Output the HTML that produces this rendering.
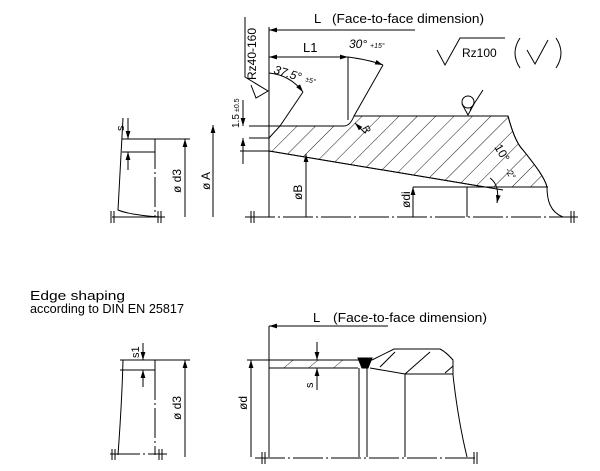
<!DOCTYPE html>
<html><head><meta charset="utf-8"><style>
html,body{margin:0;padding:0;background:#fff;width:600px;height:471px;overflow:hidden}
svg{display:block}
text{font-family:"Liberation Sans",sans-serif;fill:#000}
</style></head><body>
<svg width="600" height="471" viewBox="0 0 600 471" xmlns="http://www.w3.org/2000/svg">
<defs>
<pattern id="h" patternUnits="userSpaceOnUse" width="13" height="13" patternTransform="rotate(45)">
<line x1="0" y1="0" x2="0" y2="13" stroke="#000" stroke-width="0.9"/>
</pattern>
<pattern id="h2" patternUnits="userSpaceOnUse" width="16" height="16" patternTransform="rotate(50)">
<line x1="0" y1="0" x2="0" y2="16" stroke="#000" stroke-width="0.8"/>
</pattern>
<marker id="a" viewBox="0 0 10 6" refX="10" refY="3" markerWidth="8" markerHeight="5" orient="auto-start-reverse"><path d="M0,0L10,3L0,6z" fill="#000"/></marker>
</defs>
<g stroke="#000" fill="none" stroke-width="1">
<!-- TOP MAIN -->
<path d="M269,151 L269,138 L280,126 L344,126 Q350,126 354,116 L508,116 C513,135 518,145 523,150 C535,165 545,178 547,187 L485,187 Z" fill="url(#h)"/>
<path d="M269,151 L503,190"/>
<path d="M508,116 C513,135 518,145 523,150 C535,165 545,178 547,187 C547,200 550,212 563,217"/>
<line x1="269" y1="27" x2="269" y2="217"/>
<line x1="269" y1="30" x2="415" y2="30" marker-start="url(#a)"/>
<line x1="269" y1="57" x2="348" y2="57" marker-start="url(#a)" marker-end="url(#a)"/>
<line x1="348" y1="57" x2="348" y2="120"/>
<line x1="249" y1="126" x2="283" y2="126"/>
<line x1="249" y1="138" x2="269" y2="138"/>
<line x1="240" y1="151" x2="269" y2="151"/>
<line x1="280" y1="126" x2="303" y2="92"/>
<line x1="354" y1="116" x2="383" y2="65"/>
<path d="M348,57 Q370,60 383,65" marker-end="url(#a)"/>
<path d="M269,73 Q290,75 303,92" marker-end="url(#a)"/>
<line x1="355" y1="123" x2="365" y2="133" marker-start="url(#a)"/>
<line x1="243" y1="100" x2="243" y2="126" marker-end="url(#a)"/>
<line x1="243" y1="164" x2="243" y2="138" marker-end="url(#a)"/>
<line x1="213" y1="125" x2="213" y2="217" marker-start="url(#a)"/>
<line x1="306" y1="154" x2="306" y2="217" marker-start="url(#a)"/>
<line x1="467" y1="187" x2="467" y2="217"/>
<line x1="413" y1="187" x2="413" y2="217" marker-start="url(#a)"/>
<line x1="413" y1="187" x2="548" y2="187"/>
<path d="M490,178 Q500,185 497,203" marker-end="url(#a)"/>
<line x1="245" y1="217" x2="578" y2="217" stroke-dasharray="30,3,2,3"/>
<path d="M251,211v12M254,211v12M571,211v12M574,211v12"/>
<!-- Rz40 symbol -->
<path d="M245,17 L245,77 L268,91 L256,98 L251,85"/>
<!-- Rz100 -->
<path d="M437,50 L445,65 L460,38 L505,38"/>
<path d="M520,38 Q510,53 520,68"/>
<path d="M556,38 Q566,53 556,68"/>
<path d="M527,50 L535,64 L548,40"/>
<!-- weld -->
<circle cx="468" cy="102" r="6"/>
<path d="M462,104 L468,115 L474,104"/>
<line x1="470" y1="110" x2="483" y2="90"/>
<!-- left small view top -->
<path d="M123,118 Q120,170 118,210 Q130,215 160,217"/>
<line x1="122" y1="139" x2="162" y2="139"/>
<line x1="122" y1="152" x2="155" y2="152"/>
<line x1="155" y1="139" x2="155" y2="217" stroke-dasharray="30,3,2,3"/>
<line x1="155" y1="139" x2="190" y2="139"/>
<line x1="128" y1="118" x2="128" y2="139" marker-end="url(#a)"/>
<line x1="128" y1="170" x2="128" y2="152" marker-end="url(#a)"/>
<line x1="185" y1="217" x2="185" y2="139" marker-end="url(#a)"/>
<line x1="112" y1="217" x2="165" y2="217"/>
<path d="M111,211v12M114,211v12M158,211v12M161,211v12"/>
<!-- BOTTOM left view -->
<path d="M123,360 Q122,400 118,455"/>
<line x1="120" y1="360" x2="190" y2="360"/>
<line x1="120" y1="370" x2="155" y2="370"/>
<line x1="155" y1="360" x2="155" y2="370"/>
<line x1="155" y1="370" x2="155" y2="455" stroke-dasharray="30,3,2,3"/>
<line x1="143" y1="343" x2="143" y2="360" marker-end="url(#a)"/>
<line x1="143" y1="387" x2="143" y2="370" marker-end="url(#a)"/>
<line x1="185" y1="457" x2="185" y2="360" marker-end="url(#a)"/>
<line x1="110" y1="454" x2="167" y2="454" stroke-dasharray="30,3,2,3"/>
<path d="M112,449v11M115,449v11M159,449v11M162,449v11"/>
<!-- BOTTOM right -->
<rect x="269" y="360" width="89" height="8" fill="url(#h2)" stroke="none"/>
<line x1="247" y1="360" x2="372" y2="360"/>
<line x1="269" y1="368" x2="358" y2="368"/>
<line x1="269" y1="326" x2="388" y2="326" marker-start="url(#a)"/>
<line x1="269" y1="326" x2="269" y2="457"/>
<path d="M358,358 L372,358 L368,368 L362,368 Z" fill="#000"/>
<line x1="359" y1="368" x2="359" y2="457"/>
<line x1="367" y1="368" x2="367" y2="457"/>
<path d="M372,360 L394,349 L440,349 Q446,352 453,360 L453,375"/>
<path d="M370,368 L405,374 L453,374"/>
<path d="M380,367 L395,352M405,374 L430,352M445,373 L453,366"/>
<line x1="405" y1="374" x2="405" y2="457"/>
<path d="M453,375 Q458,420 467,457"/>
<line x1="251" y1="457" x2="251" y2="360" marker-end="url(#a)"/>
<line x1="317" y1="342" x2="317" y2="360" marker-end="url(#a)"/>
<line x1="317" y1="390" x2="317" y2="368" marker-end="url(#a)"/>
<line x1="255" y1="458" x2="478" y2="458" stroke-dasharray="30,3,2,3"/>
<path d="M262,452v12M265,452v12M474,452v12M477,452v12"/>
</g>
<!-- TEXT -->
<text x="314" y="23" font-size="13">L</text>
<text x="332" y="23" font-size="13" textLength="152" lengthAdjust="spacingAndGlyphs">(Face-to-face dimension)</text>
<text x="303" y="52" font-size="13">L1</text>
<text x="349" y="48" font-size="12" font-style="italic">30°</text>
<text x="370" y="48" font-size="7" font-style="italic">+15°</text>
<text x="462" y="57" font-size="12">Rz100</text>
<text transform="translate(256,80) rotate(-90)" font-size="12">Rz40-160</text>
<text transform="translate(273,73) rotate(17)" font-size="12" font-style="italic">37.5°</text>
<text transform="translate(305,81) rotate(17)" font-size="7">±5°</text>
<text transform="translate(239,128) rotate(-90)" font-size="10">1.5</text>
<text transform="translate(239,112) rotate(-90)" font-size="7">±0.5</text>
<text transform="translate(362,128) rotate(60)" font-size="10">R</text>
<text transform="translate(494,147) rotate(60)" font-size="12">10°</text>
<text transform="translate(505,170) rotate(60)" font-size="9">-2°</text>
<text transform="translate(210,190) rotate(-90)" font-size="12">ø A</text>
<text transform="translate(302,200) rotate(-90)" font-size="12">øB</text>
<text transform="translate(410,208) rotate(-90)" font-size="12">ødi</text>
<text transform="translate(181,193) rotate(-90)" font-size="12">ø d3</text>
<text transform="translate(124,131) rotate(-90)" font-size="11">s</text>
<text x="30" y="300" font-size="13" textLength="95" lengthAdjust="spacingAndGlyphs">Edge shaping</text>
<text x="30" y="313" font-size="13" textLength="154" lengthAdjust="spacingAndGlyphs">according to DIN EN 25817</text>
<text x="313" y="322" font-size="13">L</text>
<text x="333" y="322" font-size="13" textLength="154" lengthAdjust="spacingAndGlyphs">(Face-to-face dimension)</text>
<text transform="translate(139,358) rotate(-90)" font-size="11">s1</text>
<text transform="translate(181,420) rotate(-90)" font-size="12">ø d3</text>
<text transform="translate(247,410) rotate(-90)" font-size="12">ød</text>
<text transform="translate(313,388) rotate(-90)" font-size="11">s</text>
</svg>
</body></html>
